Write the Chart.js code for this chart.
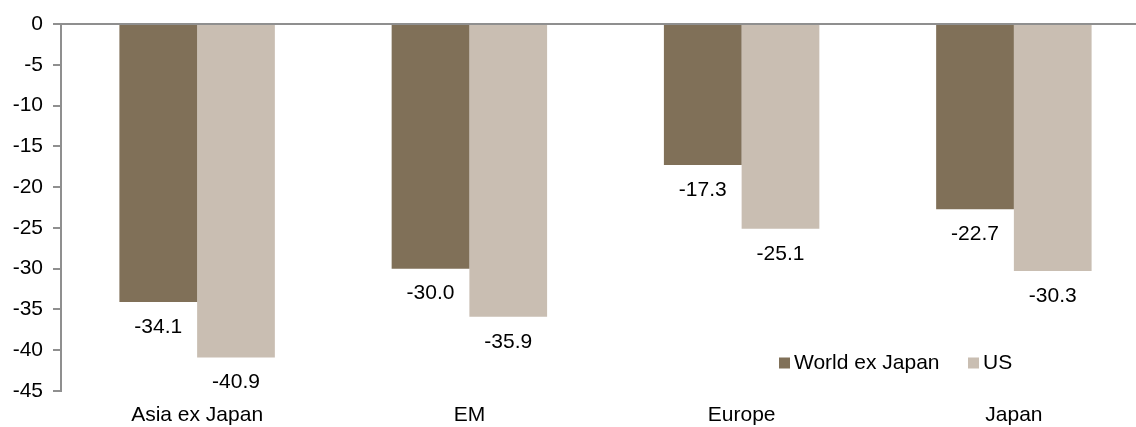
<!DOCTYPE html>
<html>
<head>
<meta charset="utf-8">
<script src="https://cdn.jsdelivr.net/npm/chart.js@4/dist/chart.umd.min.js"></script>
<style>
  html, body { margin: 0; padding: 0; background: #fff; overflow: hidden; }
  #wrap { width: 1160px; height: 427px; position: relative; }
</style>
</head>
<body>
<div id="wrap"><canvas id="c"></canvas></div>
<script>
const categories = ['Asia ex Japan', 'EM', 'Europe', 'Japan'];
const seriesNames = ['World ex Japan', 'US'];
const worldExJapan = [-34.1, -30.0, -17.3, -22.7];
const us = [-40.9, -35.9, -25.1, -30.3];
const yMin = -45, yMax = 0, yStep = 5;

const colors = ['#807058', '#C9BEB2'];
const FONT = "'Liberation Sans', Arial, sans-serif";
const FS = 21;

const dataLabels = {
  id: 'dataLabels',
  afterDatasetsDraw(chart) {
    const ctx = chart.ctx;
    ctx.save();
    ctx.font = FS + 'px ' + FONT;
    ctx.fillStyle = '#000';
    ctx.textAlign = 'center';
    ctx.textBaseline = 'middle';
    chart.data.datasets.forEach((ds, i) => {
      const meta = chart.getDatasetMeta(i);
      meta.data.forEach((bar, j) => {
        ctx.fillText(ds.data[j].toFixed(1), bar.x, bar.y + 25);
      });
    });
    ctx.restore();
  }
};

const customLegend = {
  id: 'customLegend',
  afterDraw(chart) {
    const ctx = chart.ctx;
    ctx.save();
    ctx.font = FS + 'px ' + FONT;
    ctx.textBaseline = 'middle';
    ctx.textAlign = 'left';
    const y = 363;
    const starts = [779, 968];
    chart.data.datasets.forEach((ds, i) => {
      const x = starts[i];
      ctx.fillStyle = ds.backgroundColor;
      ctx.fillRect(x, y - 5.5, 11, 11);
      ctx.fillStyle = '#000';
      ctx.fillText(ds.label, x + 15, y);
    });
    ctx.restore();
  }
};

new Chart(document.getElementById('c'), {
  type: 'bar',
  data: {
    labels: categories,
    datasets: [
      { label: seriesNames[0], data: worldExJapan, backgroundColor: colors[0], borderWidth: 0 },
      { label: seriesNames[1], data: us, backgroundColor: colors[1], borderWidth: 0 }
    ]
  },
  options: {
    responsive: true,
    maintainAspectRatio: false,
    animation: false,
    layout: { padding: { top: 24, right: 10, left: 0, bottom: 0 } },
    datasets: { bar: { categoryPercentage: 0.571, barPercentage: 1.0 } },
    plugins: {
      legend: { display: false },
      tooltip: { enabled: false }
    },
    scales: {
      x: {
        grid: { display: false, drawTicks: false },
        border: { display: false },
        ticks: { color: '#000', font: { family: FONT, size: FS }, padding: 12, maxRotation: 0 },
        afterFit(scale) { scale.height = 36; }
      },
      y: {
        min: yMin,
        max: yMax,
        z: 1,
        ticks: { stepSize: yStep, color: '#000', font: { family: FONT, size: FS }, padding: 10 },
        grid: {
          color: (c) => (c.tick && c.tick.value === 0 ? '#8f8f8f' : 'transparent'),
          lineWidth: 2,
          tickColor: '#8f8f8f',
          tickWidth: 2,
          tickLength: 8,
          drawTicks: true
        },
        border: { display: true, color: '#8f8f8f', width: 2 },
        afterFit(scale) { scale.width = 61; }
      }
    }
  },
  plugins: [dataLabels, customLegend]
});
</script>
</body>
</html>
